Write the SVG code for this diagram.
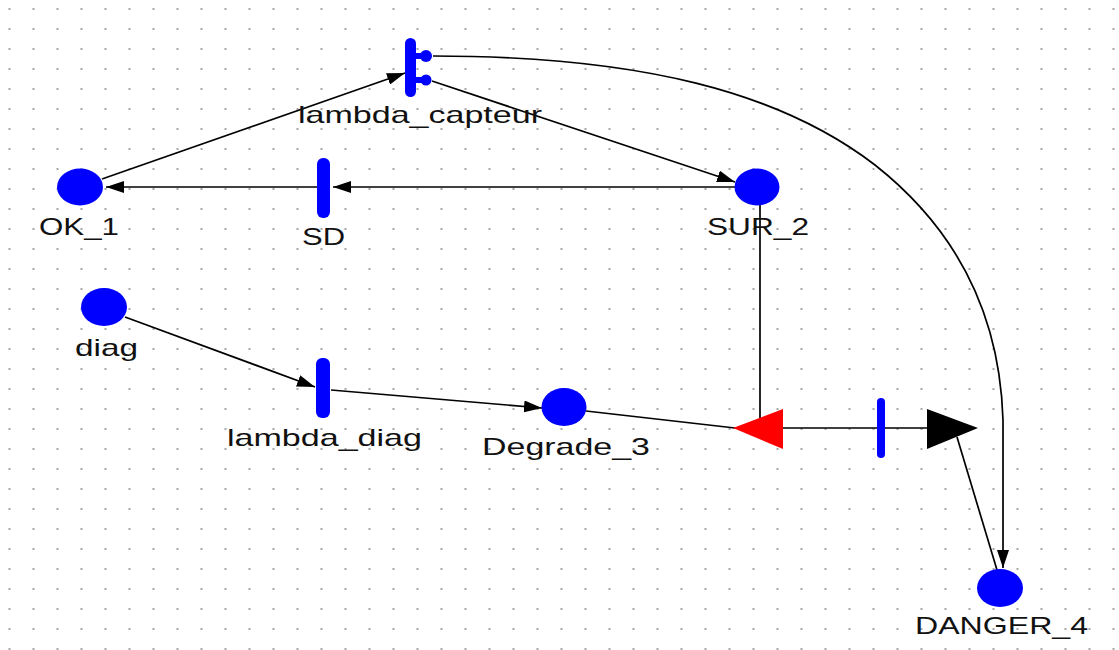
<svg xmlns="http://www.w3.org/2000/svg" width="1119" height="650" viewBox="0 0 1119 650">
<defs>
<pattern id="grid" width="24" height="20" patternUnits="userSpaceOnUse">
<rect x="8.5" y="8" width="2" height="2" fill="#a8a8a8"/>
</pattern>
<marker id="arr" markerUnits="userSpaceOnUse" markerWidth="18" markerHeight="12" refX="18" refY="6" orient="auto">
<path d="M0,0 L18,6 L0,12 z" fill="#000"/>
</marker>
<style>
.place{fill:#0000ff}
.trans{fill:#0000ff}
.lbl{font-family:"Liberation Sans",Arial,sans-serif;font-size:24px;fill:#111}
.c{fill:none;stroke:#000;stroke-width:1.7}
</style>
</defs>
<rect width="1119" height="650" fill="#fff"/>
<rect width="1119" height="650" fill="url(#grid)"/>

<g id="connectors">
<line class="c" x1="102" y1="179" x2="405" y2="73" marker-end="url(#arr)"/>
<line class="c" x1="432" y1="81" x2="735" y2="182" marker-end="url(#arr)"/>
<line class="c" x1="735" y1="187" x2="333" y2="187" marker-end="url(#arr)"/>
<line class="c" x1="317" y1="187" x2="106" y2="187" marker-end="url(#arr)"/>
<line class="c" x1="125" y1="317" x2="315" y2="387" marker-end="url(#arr)"/>
<line class="c" x1="331" y1="390" x2="542" y2="408" marker-end="url(#arr)"/>
<line class="c" x1="586" y1="411" x2="735" y2="428"/>
<line class="c" x1="760" y1="205" x2="760" y2="418"/>
<line class="c" x1="783" y1="428" x2="928" y2="428"/>
<line class="c" x1="957" y1="437" x2="997" y2="570"/>
<path class="c" d="M433,56 C640,56 780,92 875,165 C960,232 1000,320 1003,420 L1003,568" marker-end="url(#arr)"/>
</g>

<g id="OK_1">
<ellipse class="place" cx="80" cy="187" rx="23" ry="18.5"/>
<text class="lbl" x="39" y="235" textLength="80" lengthAdjust="spacingAndGlyphs">OK_1</text>
</g>
<g id="SUR_2">
<ellipse class="place" cx="757" cy="187" rx="22.5" ry="18.5"/>
<text class="lbl" x="707" y="235" textLength="102" lengthAdjust="spacingAndGlyphs">SUR_2</text>
</g>
<g id="diag">
<ellipse class="place" cx="104" cy="307" rx="23" ry="19"/>
<text class="lbl" x="75" y="356" textLength="63" lengthAdjust="spacingAndGlyphs">diag</text>
</g>
<g id="Degrade_3">
<ellipse class="place" cx="564" cy="407" rx="22.5" ry="19"/>
<text class="lbl" x="482" y="455" textLength="168" lengthAdjust="spacingAndGlyphs">Degrade_3</text>
</g>
<g id="DANGER_4">
<ellipse class="place" cx="1000" cy="588" rx="23" ry="19"/>
<text class="lbl" x="915" y="634" textLength="173" lengthAdjust="spacingAndGlyphs">DANGER_4</text>
</g>

<g id="lambda_capteur">
<rect class="trans" x="405" y="38" width="11" height="59" rx="5.5"/>
<rect class="trans" x="414" y="53" width="8" height="6"/>
<rect class="trans" x="414" y="77" width="8" height="6"/>
<circle class="trans" cx="426" cy="56" r="6"/>
<circle class="trans" cx="426" cy="80" r="5.5"/>
<text class="lbl" x="298" y="123" textLength="244" lengthAdjust="spacingAndGlyphs">lambda_capteur</text>
</g>
<g id="SD">
<rect class="trans" x="317" y="158" width="13" height="60" rx="6"/>
<text class="lbl" x="302" y="245" textLength="43" lengthAdjust="spacingAndGlyphs">SD</text>
</g>
<g id="lambda_diag">
<rect class="trans" x="316" y="358" width="14" height="60" rx="6"/>
<text class="lbl" x="227" y="446" textLength="195" lengthAdjust="spacingAndGlyphs">lambda_diag</text>
</g>
<g id="t_unnamed">
<rect class="trans" x="877" y="398" width="8" height="60" rx="4"/>
</g>
<g id="inhib_red">
<polygon points="733,428 783,409 783,449" fill="#ff0000"/>
</g>
<g id="out_black">
<polygon points="927,409 927,449 978,428" fill="#000"/>
</g>
</svg>
